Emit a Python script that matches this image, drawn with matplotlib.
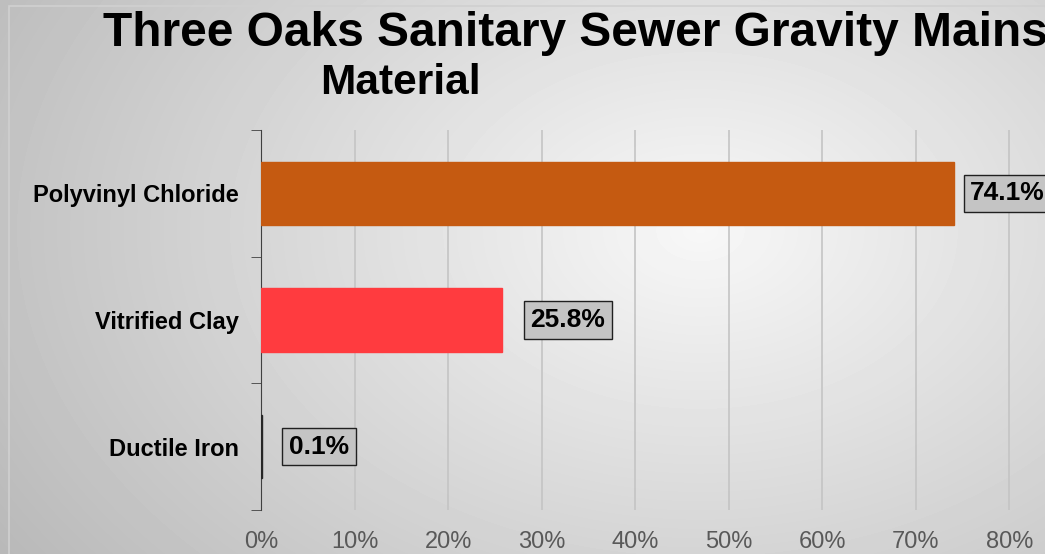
import matplotlib.pyplot as plt
import numpy as np

plt.rcParams['font.family'] = ['Liberation Sans', 'DejaVu Sans']

materials = ['Ductile Iron', 'Vitrified Clay', 'Polyvinyl Chloride']
shares = [0.001, 0.258, 0.741]
labels = ['0.1%', '25.8%', '74.1%']
colors = ['#262626', '#FF3B3F', '#C55A11']
ticks = np.arange(0, 0.81, 0.1)

fig = plt.figure(figsize=(10.45, 5.54), dpi=100)

# radial grey background
bg = fig.add_axes([0, 0, 1, 1], zorder=-5)
yy, xx = np.mgrid[0:554, 0:1045]
r = np.sqrt(((xx - 700) / 750.0) ** 2 + ((yy - 230) / 520.0) ** 2)
shade = np.clip(0.97 - 0.22 * r, 0.72, 0.97)
bg.imshow(shade, cmap='gray', vmin=0, vmax=1, aspect='auto', extent=[0, 1, 0, 1])
bg.set_axis_off()
fig.patches.append(plt.Rectangle((0.009, -0.01), 1.1, 1.0, transform=fig.transFigure,
                                 fill=False, edgecolor='#d0d0d0', lw=1.2))

ax = fig.add_axes([261 / 1045, 44 / 554, 784 / 1045, 380 / 554])
ax.patch.set_alpha(0)
ypos = np.arange(len(materials))
bars = ax.barh(ypos, shares, height=0.5, color=colors, edgecolor=colors, lw=1, zorder=3)

ax.set_xlim(0, 0.838)
ax.set_ylim(-0.5, 2.5)
ax.set_xticks(ticks)
ax.set_xticklabels([f'{int(round(t * 100))}%' for t in ticks])
ax.set_yticks(ypos)
ax.set_yticklabels(materials, fontsize=17, fontweight='bold')
ax.set_yticks([-0.5, 0.5, 1.5, 2.5], minor=True)
ax.tick_params(axis='y', which='major', length=0, pad=16)
ax.tick_params(axis='y', which='minor', length=7, color='#404040', direction='out')
ax.tick_params(axis='x', length=0, labelsize=17, labelcolor='#595959', pad=15)
ax.grid(axis='x', color='#c4c4c4', lw=1.2, zorder=0)
for s in ['top', 'right', 'bottom']:
    ax.spines[s].set_visible(False)
ax.spines['left'].set_color('#404040')

offsets = [27, 28, 16]
for b, lab, off in zip(bars, labels, offsets):
    ax.annotate(lab, (b.get_width(), b.get_y() + b.get_height() / 2),
                xytext=(off, 0), textcoords='offset pixels', va='center', ha='left',
                fontsize=19, fontweight='bold', annotation_clip=False, zorder=5,
                bbox=dict(boxstyle='square,pad=0.25', fc='#c4c4c4', ec='#202020', lw=1))

fig.text(103 / 1045, 1 - 11 / 554, 'Three Oaks Sanitary Sewer Gravity Mains',
         fontsize=34.5, fontweight='bold', va='top', ha='left')
fig.text(320 / 1045, 1 - 63 / 554, 'Material',
         fontsize=30.5, fontweight='bold', va='top', ha='left')

fig.savefig('out.png', dpi=100)
